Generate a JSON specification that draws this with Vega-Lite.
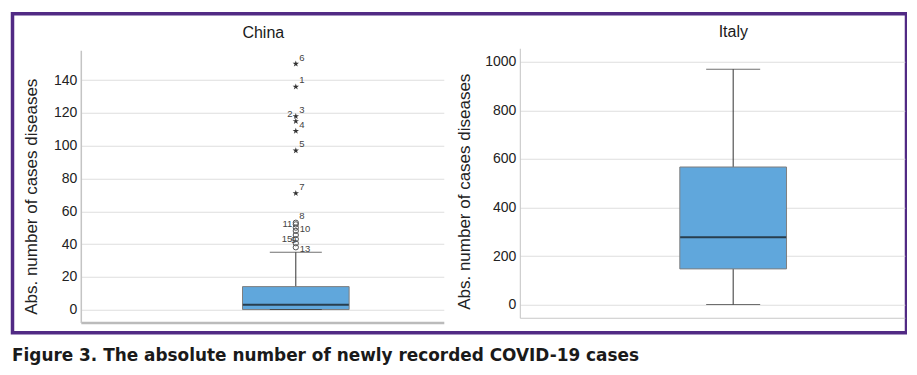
{
  "$schema": "https://vega.github.io/schema/vega-lite/v6.json",
  "background": "white",
  "padding": {"left": 11.5, "top": 13.75, "right": 0, "bottom": 0},
  "autosize": {"type": "pad"},
  "width": 894,
  "height": 319,
  "title": {
    "text": "Figure 3. The absolute number of newly recorded COVID-19 cases",
    "orient": "bottom", "anchor": "start", "frame": "bounds",
    "font": "DejaVu Sans", "fontSize": 16.9, "fontWeight": "bold", "color": "#1a1a1a",
    "baseline": "alphabetic", "offset": 28.7, "dx": -0.5
  },
  "config": {
    "view": {"stroke": "#512a84", "strokeWidth": 3.5},
    "font": "Liberation Sans",
    "axis": {"labelFont": "Liberation Sans", "titleFont": "Liberation Sans"}
  },
  "datasets": {
    "boxes": [
      {"panel": "China", "lower": 0, "q1": 0, "median": 3, "q3": 14, "upper": 35},
      {"panel": "Italy", "lower": 0, "q1": 147, "median": 277, "q3": 567, "upper": 970}
    ],
    "outliers": [
      {"panel": "China", "id": 6, "value": 150, "type": "extreme"},
      {"panel": "China", "id": 1, "value": 136, "type": "extreme"},
      {"panel": "China", "id": 3, "value": 118, "type": "extreme"},
      {"panel": "China", "id": 2, "value": 115, "type": "extreme"},
      {"panel": "China", "id": 4, "value": 109, "type": "extreme"},
      {"panel": "China", "id": 5, "value": 97, "type": "extreme"},
      {"panel": "China", "id": 7, "value": 71, "type": "extreme"},
      {"panel": "China", "id": 8, "value": 53, "type": "outlier"},
      {"panel": "China", "id": 11, "value": 52, "type": "outlier"},
      {"panel": "China", "id": 10, "value": 50, "type": "outlier"},
      {"panel": "China", "id": 12, "value": 48, "type": "outlier"},
      {"panel": "China", "id": 14, "value": 45.5, "type": "outlier"},
      {"panel": "China", "id": 15, "value": 43, "type": "outlier"},
      {"panel": "China", "id": 9, "value": 40.5, "type": "outlier"},
      {"panel": "China", "id": 13, "value": 38, "type": "outlier"}
    ]
  },
  "resolve": {
    "scale": {"x": "independent", "y": "independent"},
    "axis": {"x": "independent", "y": "independent"}
  },
  "layer": [
    {
      "encoding": {
        "x": {
          "field": "panel", "type": "nominal",
          "scale": {"type": "band", "range": [68.3, 431.3], "paddingInner": 0.1685, "paddingOuter": 1, "align": 0.6307},
          "axis": {
            "orient": "bottom", "offset": -10.2,
            "labels": false, "ticks": false, "grid": false,
            "domainColor": "#bbbbbb", "domainWidth": 2.5,
            "title": "China", "titleFontSize": 16, "titleFontWeight": "normal", "titleColor": "#1a1a1a",
            "titleBaseline": "alphabetic", "titleAlign": "center", "titleX": 250.3, "titleY": -284.8
          }
        }
      },
      "layer": [
        {
          "data": {"name": "boxes"},
          "transform": [{"filter": "datum.panel === 'China'"}],
          "mark": {"type": "rule", "color": "#333333", "strokeWidth": 1},
          "encoding": {
            "y": {
              "field": "lower", "type": "quantitative", "title": "Abs. number of cases diseases",
              "scale": {"domain": [-7.94, 158.3], "range": [308.8, 36.5], "nice": false, "zero": false},
              "axis": {
                "orient": "left", "offset": -68.3,
                "values": [0, 20, 40, 60, 80, 100, 120, 140], "format": "d",
                "grid": true, "gridColor": "#dedede", "gridWidth": 1,
                "ticks": false, "labelPadding": 4, "labelFontSize": 14, "labelColor": "#222222",
                "domainColor": "#c4c4c4", "domainWidth": 1.5,
                "titleFontSize": 17, "titleFontWeight": "normal", "titleColor": "#222222",
                "titleX": -44, "titleY": 182.5, "titleBaseline": "alphabetic", "titleAngle": -90, "titleAlign": "center"
              }
            },
            "y2": {"field": "upper"}
          }
        },
        {
          "data": {"name": "boxes"},
          "transform": [{"filter": "datum.panel === 'China'"}],
          "mark": {"type": "bar", "fill": "#60a7dc", "stroke": "#7f7f7f", "strokeWidth": 1},
          "encoding": {
            "y": {"field": "q1", "type": "quantitative", "title": "Abs. number of cases diseases"},
            "y2": {"field": "q3"}
          }
        },
        {
          "data": {"name": "boxes"},
          "transform": [{"filter": "datum.panel === 'China'"}],
          "mark": {"type": "tick", "color": "#333333", "size": 52, "thickness": 1},
          "encoding": {"y": {"field": "upper", "type": "quantitative", "title": "Abs. number of cases diseases"}}
        },
        {
          "data": {"name": "boxes"},
          "transform": [{"filter": "datum.panel === 'China'"}],
          "mark": {"type": "tick", "color": "#333333", "size": 52, "thickness": 1},
          "encoding": {"y": {"field": "lower", "type": "quantitative", "title": "Abs. number of cases diseases"}}
        },
        {
          "data": {"name": "boxes"},
          "transform": [{"filter": "datum.panel === 'China'"}],
          "mark": {"type": "tick", "color": "#111111", "size": 106, "thickness": 2},
          "encoding": {"y": {"field": "median", "type": "quantitative", "title": "Abs. number of cases diseases"}}
        },
        {
          "data": {"name": "outliers"},
          "transform": [{"filter": "datum.type === 'outlier'"}],
          "mark": {"type": "point", "shape": "circle", "filled": false, "stroke": "#555555", "strokeWidth": 1, "size": 28, "opacity": 1},
          "encoding": {"y": {"field": "value", "type": "quantitative", "title": "Abs. number of cases diseases"}}
        },
        {
          "data": {"name": "outliers"},
          "transform": [{"filter": "datum.type === 'extreme'"}],
          "mark": {"type": "point", "shape": "M0,-1L0.2245,-0.309L0.951,-0.309L0.363,0.118L0.588,0.809L0,0.382L-0.588,0.809L-0.363,0.118L-0.951,-0.309L-0.2245,-0.309Z", "filled": true, "fill": "#333333", "strokeWidth": 0, "size": 45, "opacity": 1},
          "encoding": {"y": {"field": "value", "type": "quantitative", "title": "Abs. number of cases diseases"}}
        },
        {
          "data": {"name": "outliers"},
          "transform": [{"filter": {"field": "id", "oneOf": [6, 1, 3, 4, 5, 7, 8]}}],
          "mark": {"type": "text", "align": "left", "baseline": "middle", "dx": 3.5, "dy": -6.3, "fontSize": 9.5, "color": "#444444"},
          "encoding": {"y": {"field": "value", "type": "quantitative", "title": "Abs. number of cases diseases"}, "text": {"field": "id"}}
        },
        {
          "data": {"name": "outliers"},
          "transform": [{"filter": {"field": "id", "oneOf": [10, 13]}}],
          "mark": {"type": "text", "align": "left", "baseline": "middle", "dx": 4, "dy": 1.5, "fontSize": 9.5, "color": "#444444"},
          "encoding": {"y": {"field": "value", "type": "quantitative", "title": "Abs. number of cases diseases"}, "text": {"field": "id"}}
        },
        {
          "data": {"name": "outliers"},
          "transform": [{"filter": {"field": "id", "oneOf": [2]}}],
          "mark": {"type": "text", "align": "right", "baseline": "middle", "dx": -3.3, "dy": -7.5, "fontSize": 9.5, "color": "#444444"},
          "encoding": {"y": {"field": "value", "type": "quantitative", "title": "Abs. number of cases diseases"}, "text": {"field": "id"}}
        },
        {
          "data": {"name": "outliers"},
          "transform": [{"filter": {"field": "id", "oneOf": [11, 15]}}],
          "mark": {"type": "text", "align": "right", "baseline": "middle", "dx": -3.5, "dy": 0, "fontSize": 9.5, "color": "#444444"},
          "encoding": {"y": {"field": "value", "type": "quantitative", "title": "Abs. number of cases diseases"}, "text": {"field": "id"}}
        },
        {
          "data": {"name": "outliers"},
          "transform": [{"filter": {"field": "id", "oneOf": [9]}}],
          "mark": {"type": "text", "align": "right", "baseline": "middle", "dx": 0.5, "dy": -3, "fontSize": 9.5, "color": "#444444"},
          "encoding": {"y": {"field": "value", "type": "quantitative", "title": "Abs. number of cases diseases"}, "text": {"field": "id"}}
        }
      ]
    },
    {
      "data": {"name": "boxes"},
      "transform": [{"filter": "datum.panel === 'Italy'"}],
      "encoding": {
        "x": {
          "field": "panel", "type": "nominal",
          "scale": {"type": "band", "range": [507.3, 892.3], "paddingInner": 0.2332, "paddingOuter": 1, "align": 0.575},
          "axis": {
            "orient": "bottom", "offset": -15,
            "labels": false, "ticks": false, "grid": false,
            "domainColor": "#c8c8c8", "domainWidth": 1,
            "title": "Italy", "titleFontSize": 16, "titleFontWeight": "normal", "titleColor": "#1a1a1a",
            "titleBaseline": "alphabetic", "titleAlign": "center", "titleX": 720.3, "titleY": -281.5
          }
        }
      },
      "layer": [
        {
          "mark": {"type": "rule", "color": "#333333", "strokeWidth": 1},
          "encoding": {
            "y": {
              "field": "lower", "type": "quantitative", "title": "Abs. number of cases diseases",
              "scale": {"domain": [-54.4, 1056.5], "range": [304, 34.5], "nice": false, "zero": false},
              "axis": {
                "orient": "left", "offset": -507.3,
                "values": [0, 200, 400, 600, 800, 1000], "format": "d",
                "grid": true, "gridColor": "#dedede", "gridWidth": 1,
                "ticks": false, "labelPadding": 4, "labelFontSize": 14, "labelColor": "#222222",
                "domainColor": "#c4c4c4", "domainWidth": 1,
                "titleFontSize": 17, "titleFontWeight": "normal", "titleColor": "#222222",
                "titleX": -50, "titleY": 177.5, "titleBaseline": "alphabetic", "titleAngle": -90, "titleAlign": "center"
              }
            },
            "y2": {"field": "upper"}
          }
        },
        {
          "mark": {"type": "bar", "fill": "#60a7dc", "stroke": "#7f7f7f", "strokeWidth": 1},
          "encoding": {
            "y": {"field": "q1", "type": "quantitative", "title": "Abs. number of cases diseases"},
            "y2": {"field": "q3"}
          }
        },
        {
          "mark": {"type": "tick", "color": "#333333", "size": 54, "thickness": 1},
          "encoding": {"y": {"field": "upper", "type": "quantitative", "title": "Abs. number of cases diseases"}}
        },
        {
          "mark": {"type": "tick", "color": "#333333", "size": 54, "thickness": 1},
          "encoding": {"y": {"field": "lower", "type": "quantitative", "title": "Abs. number of cases diseases"}}
        },
        {
          "mark": {"type": "tick", "color": "#111111", "size": 106, "thickness": 2},
          "encoding": {"y": {"field": "median", "type": "quantitative", "title": "Abs. number of cases diseases"}}
        }
      ]
    }
  ]
}
